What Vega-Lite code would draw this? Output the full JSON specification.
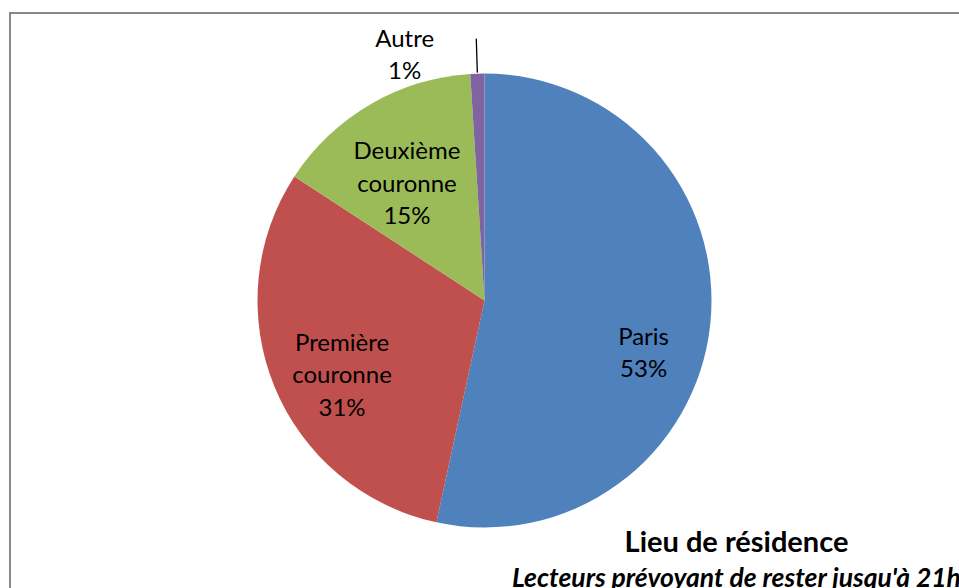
{
  "$schema": "https://vega.github.io/schema/vega-lite/v6.json",
  "width": 949,
  "height": 575,
  "autosize": {"type": "none"},
  "padding": {"left": 10, "top": 13, "right": 0, "bottom": 0},
  "background": "white",
  "config": {"view": {"stroke": null}, "text": {"font": "Lato"}},
  "title": {
    "text": "Lieu de résidence",
    "subtitle": "Lecteurs prévoyant de rester jusqu'à 21h",
    "orient": "bottom",
    "anchor": "middle",
    "frame": "group",
    "dx": 252,
    "dy": -60,
    "offset": 0,
    "font": "Lato",
    "fontSize": 29,
    "fontWeight": "bold",
    "color": "black",
    "subtitleFont": "Lato",
    "subtitleFontSize": 26.5,
    "subtitleFontStyle": "italic",
    "subtitleFontWeight": "bold",
    "subtitleColor": "black",
    "subtitlePadding": 8
  },
  "data": {
    "values": [
      {"lieu": "Paris", "nom": "Paris", "part": 53.4, "ordre": 1},
      {"lieu": "Première couronne", "nom": "Première\ncouronne", "part": 30.8, "ordre": 2},
      {"lieu": "Deuxième couronne", "nom": "Deuxième\ncouronne", "part": 14.8, "ordre": 3},
      {"lieu": "Autre", "nom": "Autre", "part": 1.0, "ordre": 4}
    ]
  },
  "transform": [
    {"calculate": "datum.nom + '\\n' + format(datum.part / 100, '.0%')", "as": "label"}
  ],
  "layer": [
    {
      "mark": {"type": "rect", "fill": "transparent", "stroke": "#898989", "strokeWidth": 2, "strokeDash": [949, 1524, 575]},
      "encoding": {}
    },
    {
      "mark": {"type": "arc", "radius": 227},
      "encoding": {
        "theta": {"field": "part", "type": "quantitative", "stack": true},
        "order": {"field": "ordre", "type": "quantitative"},
        "color": {
          "field": "lieu",
          "type": "nominal",
          "scale": {
            "domain": ["Paris", "Première couronne", "Deuxième couronne", "Autre"],
            "range": ["#4F81BD", "#C0504D", "#9BBB59", "#8064A2"]
          },
          "legend": null
        }
      }
    },
    {
      "mark": {"type": "arc", "radius": 262, "radius2": 228, "padAngle": 0.2, "fill": "transparent", "stroke": "black", "strokeWidth": 1.3},
      "encoding": {
        "theta": {"field": "part", "type": "quantitative", "stack": true},
        "order": {"field": "ordre", "type": "quantitative"},
        "detail": {"field": "lieu", "type": "nominal"},
        "strokeOpacity": {"condition": {"test": "datum.lieu === 'Autre'", "value": 1}, "value": 0}
      }
    },
    {
      "mark": {"type": "text", "radius": 160, "dy": 20, "fontSize": 24, "lineBreak": "\n", "lineHeight": 32.5, "color": "black", "baseline": "middle"},
      "encoding": {
        "theta": {"field": "part", "type": "quantitative", "stack": true},
        "order": {"field": "ordre", "type": "quantitative"},
        "detail": {"field": "lieu", "type": "nominal"},
        "text": {"condition": {"test": "datum.lieu !== 'Paris'", "value": ""}, "field": "label"}
      }
    },
    {
      "mark": {"type": "text", "radius": 154, "dy": -15, "fontSize": 24, "lineBreak": "\n", "lineHeight": 32.5, "color": "black", "baseline": "middle"},
      "encoding": {
        "theta": {"field": "part", "type": "quantitative", "stack": true},
        "order": {"field": "ordre", "type": "quantitative"},
        "detail": {"field": "lieu", "type": "nominal"},
        "text": {"condition": {"test": "datum.lieu === 'Paris' || datum.lieu === 'Autre'", "value": ""}, "field": "label"}
      }
    },
    {
      "mark": {"type": "text", "radius": 250, "dx": -72, "dy": -11, "fontSize": 24, "lineBreak": "\n", "lineHeight": 32.5, "color": "black", "baseline": "middle"},
      "encoding": {
        "theta": {"field": "part", "type": "quantitative", "stack": true},
        "order": {"field": "ordre", "type": "quantitative"},
        "detail": {"field": "lieu", "type": "nominal"},
        "text": {"condition": {"test": "datum.lieu !== 'Autre'", "value": ""}, "field": "label"}
      }
    }
  ]
}
